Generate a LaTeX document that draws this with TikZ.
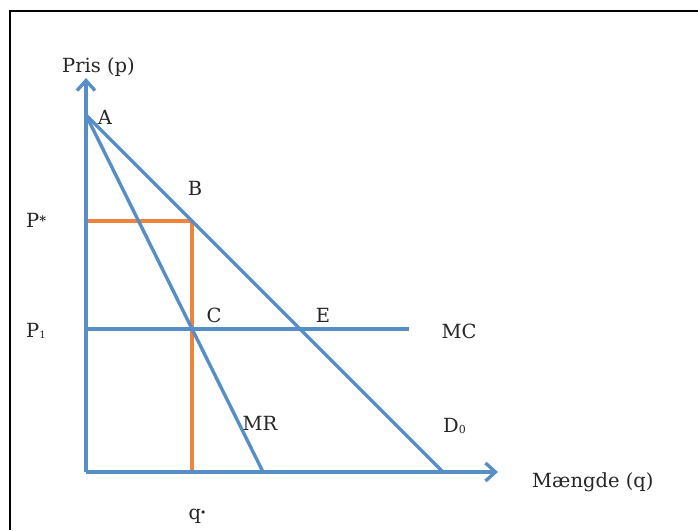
\documentclass[tikz,border=0pt]{standalone}
\usepackage{fontspec}
\setmainfont{DejaVu Serif}
\usetikzlibrary{arrows.meta}
\definecolor{lineblue}{RGB}{88,142,200}
\definecolor{lineorange}{RGB}{237,132,58}

\begin{document}
\begin{tikzpicture}[x=1pt,y=-1pt,
  curve/.style={draw=lineblue,line width=3.4pt},
  guide/.style={draw=lineorange,line width=3.4pt},
  axis/.style={curve,-{Straight Barb[length=10pt,width=18pt]}},
  lbl/.style={anchor=base,inner sep=0pt,text=black!85,font=\fontsize{19.5}{22}\selectfont}]
\useasboundingbox (0,0) rectangle (698,530);
%frame
\draw[line width=2.5pt] (10,530) -- (10,11) -- (698,11);
%points
\coordinate (O) at (86,472);
\coordinate (A) at (86,115);
\coordinate (ytip) at (86,78);
\coordinate (xtip) at (498,472);
\coordinate (B) at (192,221);
\coordinate (C) at (192,329);
\coordinate (E) at (300,329);
\coordinate (Pstar) at (86,221);
\coordinate (Pone) at (86,329);
\coordinate (qstar) at (192,472);
\coordinate (MCend) at (409,329);
\coordinate (MRend) at (263,472);
\coordinate (Dend) at (443,472);
%price and quantity
\draw[guide] (Pstar) to (B);
\draw[guide] (B) to (qstar);
%curves
\draw[curve] (Pone) to (MCend);
\draw[curve] (A) to (Dend);
\draw[curve] (A) to (MRend);
%axes
\draw[axis] (O) to (ytip);
\draw[axis] (O) to (xtip);
%labels
\node[lbl,anchor=base west] (ylab) at (62,72) {Pris (p)};
\node[lbl,anchor=base west] (xlab) at (532,487) {Mængde (q)};
\node[lbl] (lA) at (105,124) {A};
\node[lbl] (lB) at (195,195) {B};
\node[lbl] (lC) at (214,322) {C};
\node[lbl] (lE) at (323,322) {E};
\node[lbl,anchor=base west] (lPstar) at (26,227) {P\raisebox{0.1ex}{\fontsize{13}{13}\selectfont\bfseries *}};
\node[lbl,anchor=base west] (lPone) at (26,337) {P\raisebox{-0.1ex}{\fontsize{10}{10}\selectfont 1}};
\node[lbl] (lqstar) at (197,519) {q\raisebox{0.4ex}{\fontsize{8}{8}\selectfont $\bullet$}};
\node[lbl] (lMC) at (459,338) {MC};
\node[lbl] (lMR) at (260,430) {MR};
\node[lbl,anchor=base west] (lD) at (443,432) {D\raisebox{-0.1ex}{\fontsize{11}{11}\selectfont 0}};
\end{tikzpicture}
\end{document}
